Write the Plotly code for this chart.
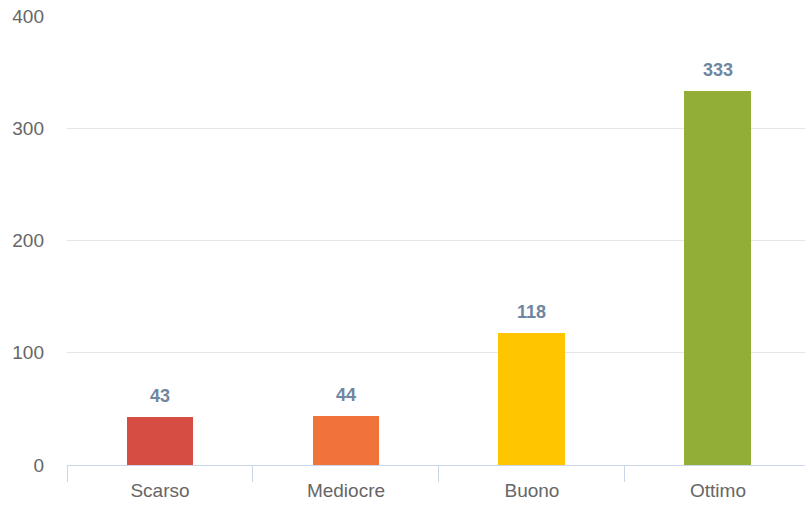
import plotly.graph_objects as go

categories = ["Scarso", "Mediocre", "Buono", "Ottimo"]
values = [43, 44, 118, 333]
bar_colors = ["#d54d43", "#f07339", "#ffc600", "#93ae36"]
y_ticks = [0, 100, 200, 300, 400]

FONT = "Liberation Sans, Arial, sans-serif"

fig = go.Figure(
    go.Bar(
        x=categories,
        y=values,
        marker=dict(color=bar_colors, line=dict(width=0)),
        width=0.36,
        hoverinfo="x+y",
    )
)

# value labels above each bar
for cat, val in zip(categories, values):
    fig.add_annotation(
        x=cat, y=val, text=f"<b>{val}</b>", showarrow=False,
        yanchor="bottom", yshift=9,
        font=dict(family=FONT, size=18, color="#6f86a0"),
    )

fig.update_layout(
    width=805, height=506,
    margin=dict(l=67, r=0, t=16, b=41),
    paper_bgcolor="white", plot_bgcolor="white",
    showlegend=False,
    font=dict(family=FONT, size=19, color="#666666"),
    bargap=0,
)

fig.update_xaxes(
    type="category",
    range=[-0.5, 3.468],
    showgrid=False,
    showline=True, linecolor="#ccd6eb", linewidth=1,
    ticks="outside", tickson="boundaries", ticklen=16, tickcolor="#ccd6eb",
    ticklabelstandoff=8,
    tickfont=dict(family=FONT, size=19, color="#666666"),
    zeroline=False,
)

fig.update_yaxes(
    range=[0, 400],
    tickvals=y_ticks,
    showgrid=True, gridcolor="#e6e6e6", gridwidth=1,
    zeroline=False, showline=False,
    ticklabelstandoff=22,
    tickfont=dict(family=FONT, size=19, color="#666666"),
)

fig.write_html("out.html")
